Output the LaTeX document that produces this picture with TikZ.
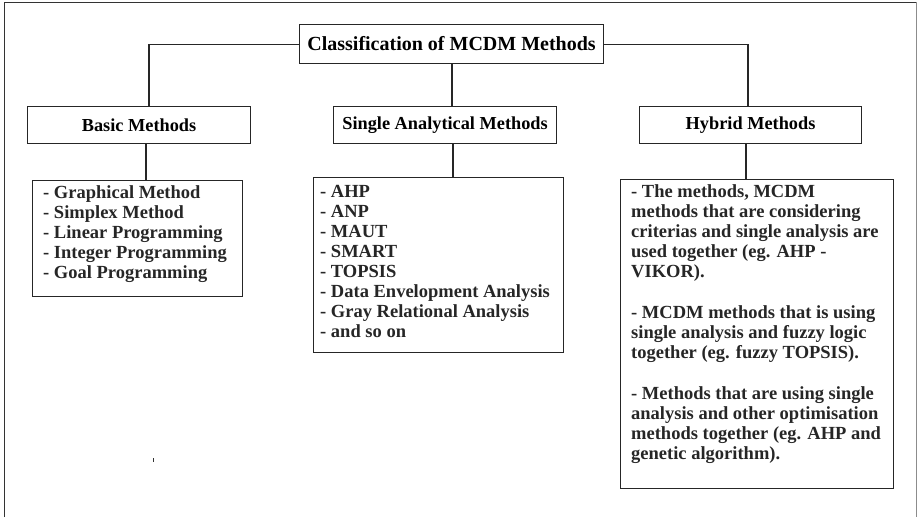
\documentclass[tikz,border=0pt]{standalone}
\usepackage{fontspec}
\setmainfont{Liberation Serif}
\begin{document}
\begin{tikzpicture}[x=1pt,y=-1pt,
  box/.style={draw=black!85, line width=1.1pt, rectangle, inner sep=0pt, anchor=north west, align=center},
  conn/.style={draw=black!85, line width=1.1pt},
  hdr/.style={font=\fontsize{18.3}{20}\selectfont\bfseries},
  listtext/.style={anchor=base west, inner sep=0pt, font=\fontsize{18.5}{20}\selectfont\bfseries, text=black!85}
]
\useasboundingbox (0,0) rectangle (918,517);
% outer frame
\draw[line width=1pt, black!80] (4,517) -- (4,2) -- (916,2);
\draw[line width=0.8pt, black!45] (916,2) -- (916,517);

% title and headers
\node[box, minimum width=304pt, minimum height=39pt, font=\fontsize{20}{22}\selectfont\bfseries] (title) at (299,24) {Classification of MCDM Methods};
\node[box, hdr, minimum width=223pt, minimum height=37pt] (basic) at (27,106) {Basic Methods};
\node[box, hdr, minimum width=223pt, minimum height=37pt] (single) at (333,106) {Single Analytical Methods};
\node[box, hdr, minimum width=222pt, minimum height=37pt] (hybrid) at (639,106) {Hybrid Methods};

% list boxes
\node[box, minimum width=210pt, minimum height=116pt] (blist) at (32,180) {};
\node[box, minimum width=250pt, minimum height=175pt] (slist) at (313,177) {};
\node[box, minimum width=273pt, minimum height=309pt] (hlist) at (620,179) {};

\node[listtext] (btext) at (43,198) {\parbox[t]{195pt}{\raggedright
- Graphical Method\\
- Simplex Method\\
- Linear Programming\\
- Integer Programming\\
- Goal Programming}};

\node[listtext] (stext) at (320,197) {\parbox[t]{240pt}{\raggedright
- AHP\\
- ANP\\
- MAUT\\
- SMART\\
- TOPSIS\\
- Data Envelopment Analysis\\
- Gray Relational Analysis\\
- and so on}};

\node[listtext] (htext) at (631,197) {\parbox[t]{260pt}{\raggedright
- The methods, MCDM\\
methods that are considering\\
criterias and single analysis are\\
used together (eg. AHP -\\
VIKOR).\\[21pt]
- MCDM methods that is using\\
single analysis and fuzzy logic\\
together (eg. fuzzy TOPSIS).\\[21pt]
- Methods that are using single\\
analysis and other optimisation\\
methods together (eg. AHP and\\
genetic algorithm).}};

% connectors
\coordinate (jl) at (149,0);
\coordinate (jr) at (748,0);
\coordinate (jc) at (452,0);
\coordinate (jb) at (146,0);
\coordinate (js) at (453,0);
\coordinate (jh) at (746,0);
\draw[conn] (title.west) -| (jl |- basic.north);
\draw[conn] (title.east) -| (jr |- hybrid.north);
\draw[conn] (jc |- title.south) -- (jc |- single.north);
\draw[conn] (jb |- basic.south) -- (jb |- blist.north);
\draw[conn] (js |- single.south) -- (js |- slist.north);
\draw[conn] (jh |- hybrid.south) -- (jh |- hlist.north);

% stray mark
\fill[black!80] (152.6,457.5) rectangle (154,461.5);
\end{tikzpicture}
\end{document}
